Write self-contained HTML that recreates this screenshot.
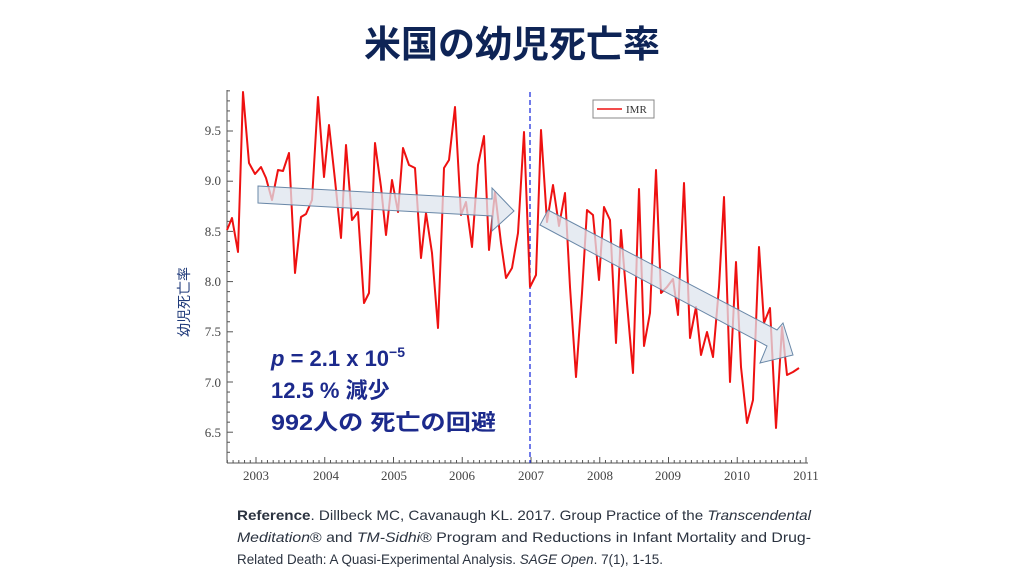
<!DOCTYPE html>
<html><head><meta charset="utf-8"><style>
html,body{margin:0;padding:0;background:#fff;}
svg{display:block;}
</style></head><body>
<svg width="1024" height="576" viewBox="0 0 1024 576" xmlns="http://www.w3.org/2000/svg">
<rect width="1024" height="576" fill="#fff"/>
<text x="512" y="57" text-anchor="middle" font-family="'Noto Sans CJK JP',sans-serif" font-weight="bold" font-size="37" fill="#0e2456">米国の幼児死亡率</text>

<g stroke="#555" stroke-width="1" fill="none">
<line x1="227" y1="90" x2="227" y2="463"/>
<line x1="227" y1="463" x2="808" y2="463"/>
</g>
<g id="xt" stroke="#555" stroke-width="1"></g>
<g id="yt" stroke="#555" stroke-width="1"></g>
<g font-family="'Liberation Serif',serif" font-size="13" fill="#444" text-anchor="end">
<text x="221" y="135">9.5</text><text x="221" y="185">9.0</text><text x="221" y="236">8.5</text>
<text x="221" y="286">8.0</text><text x="221" y="336">7.5</text><text x="221" y="387">7.0</text><text x="221" y="437">6.5</text>
</g>
<g font-family="'Liberation Serif',serif" font-size="13" fill="#444" text-anchor="middle">
<text x="256" y="480">2003</text><text x="326" y="480">2004</text><text x="394" y="480">2005</text><text x="462" y="480">2006</text>
<text x="531" y="480">2007</text><text x="600" y="480">2008</text><text x="668" y="480">2009</text><text x="737" y="480">2010</text><text x="806" y="480">2011</text>
</g>
<text transform="translate(189,302) rotate(-90)" text-anchor="middle" font-family="'Noto Sans CJK JP',sans-serif" font-size="14" fill="#1f3a7a">幼児死亡率</text>

<line x1="530" y1="92" x2="530" y2="463" stroke="#2233dd" stroke-width="1.3" stroke-dasharray="5,3"/>

<polyline fill="none" stroke="#ee1111" stroke-width="2" stroke-linejoin="round" points="227,230 232,218 238,252 243,92 249,163 255,174 261,167 266,178 272,200 278,170 283,171 289,153 295,273 301,217 306,214 312,200 318,97 324,177 329,125 335,180 341,238 346,145 352,220 358,212 364,303 369,293 375,143 381,187 386,235 392,180 398,212 403,148 409,165 415,168 421,258 426,213 432,253 438,328 444,168 449,160 455,107 461,215 466,202 472,247 478,165 484,136 489,250 495,192 501,243 506,278 512,268 518,233 524,132 530,287 536,275 541,130 547,222 553,185 559,226 565,193 570,287 576,377 582,293 587,210 593,215 599,280 604,207 610,220 616,343 621,230 627,303 633,373 639,189 644,346 650,313 656,170 661,293 667,287 673,279 678,315 684,183 690,338 696,307 701,355 707,332 713,357 719,287 724,197 730,382 736,262 741,367 747,423 753,400 759,247 764,323 770,308 776,428 782,327 787,375 793,372 799,368"/>

<polygon points="258,186 492,199 492,188 514,211 492,231 492,216 258,203" fill="#dde4ee" fill-opacity="0.75" stroke="#6a88a8" stroke-width="1"/>
<polygon points="548,210 777,330 783,323 793,355 760,363 767,346 540,225" fill="#dde4ee" fill-opacity="0.75" stroke="#6a88a8" stroke-width="1"/>

<rect x="593" y="100" width="61" height="18" fill="#fff" stroke="#888" stroke-width="1"/>
<line x1="597" y1="109" x2="622" y2="109" stroke="#ee1111" stroke-width="1.5"/>
<text x="626" y="113" font-family="'Liberation Serif',serif" font-size="11" fill="#333">IMR</text>

<g font-family="'Liberation Sans','Noto Sans CJK JP',sans-serif" font-weight="bold" font-size="22" fill="#1c2a8c">
<text x="271" y="366"><tspan font-style="italic">p</tspan> = 2.1 x 10<tspan font-size="14" dy="-9">−5</tspan></text>
<text x="271" y="398">12.5 % 減少</text>
<text x="271" y="430" textLength="225" lengthAdjust="spacingAndGlyphs">992人の 死亡の回避</text>
</g>

<g font-family="'Liberation Sans',sans-serif" font-size="14" fill="#2b3340">
<text x="237" y="520" textLength="574" lengthAdjust="spacingAndGlyphs"><tspan font-weight="bold">Reference</tspan>. Dillbeck MC, Cavanaugh KL. 2017. Group Practice of the <tspan font-style="italic">Transcendental</tspan></text>
<text x="237" y="542" textLength="574" lengthAdjust="spacingAndGlyphs"><tspan font-style="italic">Meditation</tspan>® and <tspan font-style="italic">TM-Sidhi</tspan>® Program  and Reductions in Infant Mortality and  Drug-</text>
<text x="237" y="564" textLength="426" lengthAdjust="spacingAndGlyphs">Related Death: A  Quasi-Experimental Analysis. <tspan font-style="italic">SAGE Open</tspan>. 7(1), 1-15.</text>
</g>
</svg>
<script>
var ns="http://www.w3.org/2000/svg";
var xt=document.getElementById("xt");
for(var m=-5;m<=96;m++){var x=256+m*68.75/12;if(x<227||x>808)continue;var major=(m%12===0);
var l=document.createElementNS(ns,"line");l.setAttribute("x1",x);l.setAttribute("x2",x);l.setAttribute("y1",463);l.setAttribute("y2",major?457:460);xt.appendChild(l);}
var yt=document.getElementById("yt");
for(var v=6.3;v<=9.91;v+=0.1){var y=131+(9.5-v)*100.4;var major=Math.abs(v*2-Math.round(v*2))<0.01;
var l=document.createElementNS(ns,"line");l.setAttribute("y1",y);l.setAttribute("y2",y);l.setAttribute("x1",227);l.setAttribute("x2",major?233:230);yt.appendChild(l);}
</script>
</body></html>
